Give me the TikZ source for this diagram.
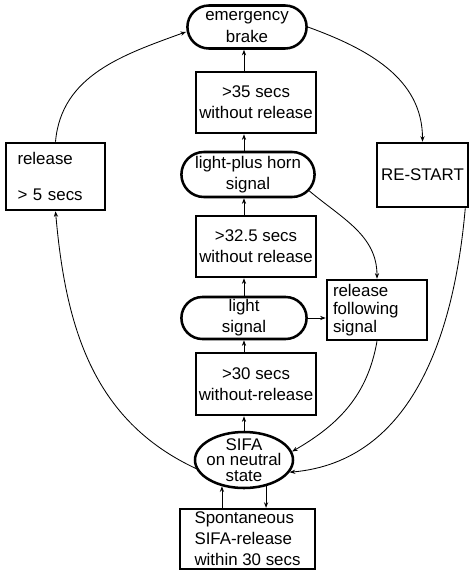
\documentclass[tikz,border=0pt]{standalone}
\usepackage{fontspec}
\setmainfont{Liberation Sans}
\usetikzlibrary{shapes.misc,shapes.geometric,arrows.meta}
\begin{document}
\begin{tikzpicture}[>={Stealth[length=4pt,width=3pt]}, font=\fontsize{12}{15}\selectfont,
  state/.style={draw, rounded rectangle, line width=1.8pt, inner sep=1pt, align=center},
  cond/.style={draw, rectangle, line width=1.8pt, inner sep=2pt},
  link/.style={->, line width=0.6pt}]
\useasboundingbox (0,0) rectangle (11.725,-14.25);
\node[state, minimum width=3.05cm, minimum height=1.075cm] (brake) at (6.175,-0.675) {emergency\\brake};
\node[cond, minimum width=3cm, minimum height=1.525cm, align=center] (wait35) at (6.4,-2.5625) {>35 secs\\without release};
\node[state, minimum width=3.4cm, minimum height=1.125cm] (horn) at (6.2,-4.3625) {light-plus horn\\signal};
\node[cond, minimum width=3cm, minimum height=1.525cm, align=center] (wait325) at (6.4,-6.1625) {>32.5 secs\\without release};
\node[state, minimum width=3.2cm, minimum height=1.05cm] (light) at (6.1,-7.95) {light\\signal};
\node[cond, minimum width=3cm, minimum height=1.55cm, align=center] (wait30) at (6.4,-9.6) {>30 secs\\without-release};
\node[draw, ellipse, line width=1.8pt, inner xsep=-2.2pt, inner ysep=-4pt, minimum width=2.45cm, minimum height=1.4cm,
  align=center, font=\fontsize{12}{11}\selectfont] (sifa) at (6.1,-11.5) {SIFA\\on neutral\\state};
\node[cond, minimum width=3.375cm, minimum height=1.45cm, align=left] (spont) at (6.1875,-13.475) {Spontaneous\\SIFA-release\\within 30 secs};
\node[cond, minimum width=2.475cm, minimum height=1.675cm, align=left, text width=1.9cm, xshift=0.1cm] (release) at (1.2875,-4.4125) {release\\[10pt]> 5 secs};
\node[cond, minimum width=2.275cm, minimum height=1.6cm] (restart) at (10.5625,-4.375) {RE-START};
\node[cond, minimum width=2.5cm, minimum height=1.5cm, align=left, text width=2.2cm, font=\fontsize{12}{13}\selectfont] (follow) at (9.425,-7.75) {release\\following\\signal};
\draw[link] (wait35.north -| sifa) -- (brake.south -| sifa);
\draw[link] (horn.north -| sifa) -- (wait35.south -| sifa);
\draw[link] (wait325.north -| sifa) -- (horn.south -| sifa);
\draw[link] (light.north -| sifa) -- (wait325.south -| sifa);
\draw[link] (wait30.north -| sifa) -- (light.south -| sifa);
\draw[link] (sifa.north) -- (wait30.south -| sifa);
\draw[link] (spont.north -| sifa.230) -- (sifa.230);
\draw[link] (sifa.310) -- (spont.north -| sifa.310);
\draw[link] (release.north) to[out=85, in=200] ([yshift=-0.12cm]brake.west);
\draw[link] (brake.east) to[out=-20, in=90] (restart.north);
\draw[link] ([xshift=-0.1cm]restart.south east) to[out=-95, in=5] (sifa.-15);
\draw[link] (horn.-15) to[out=-40, in=90] (follow.north);
\draw[link] (light.east) -- (light.east -| follow.west);
\draw[link] (follow.south) to[out=-100, in=30] (sifa.10);
\draw[link] (sifa.190) to[out=155, in=-85] (release.south);
\end{tikzpicture}
\end{document}
